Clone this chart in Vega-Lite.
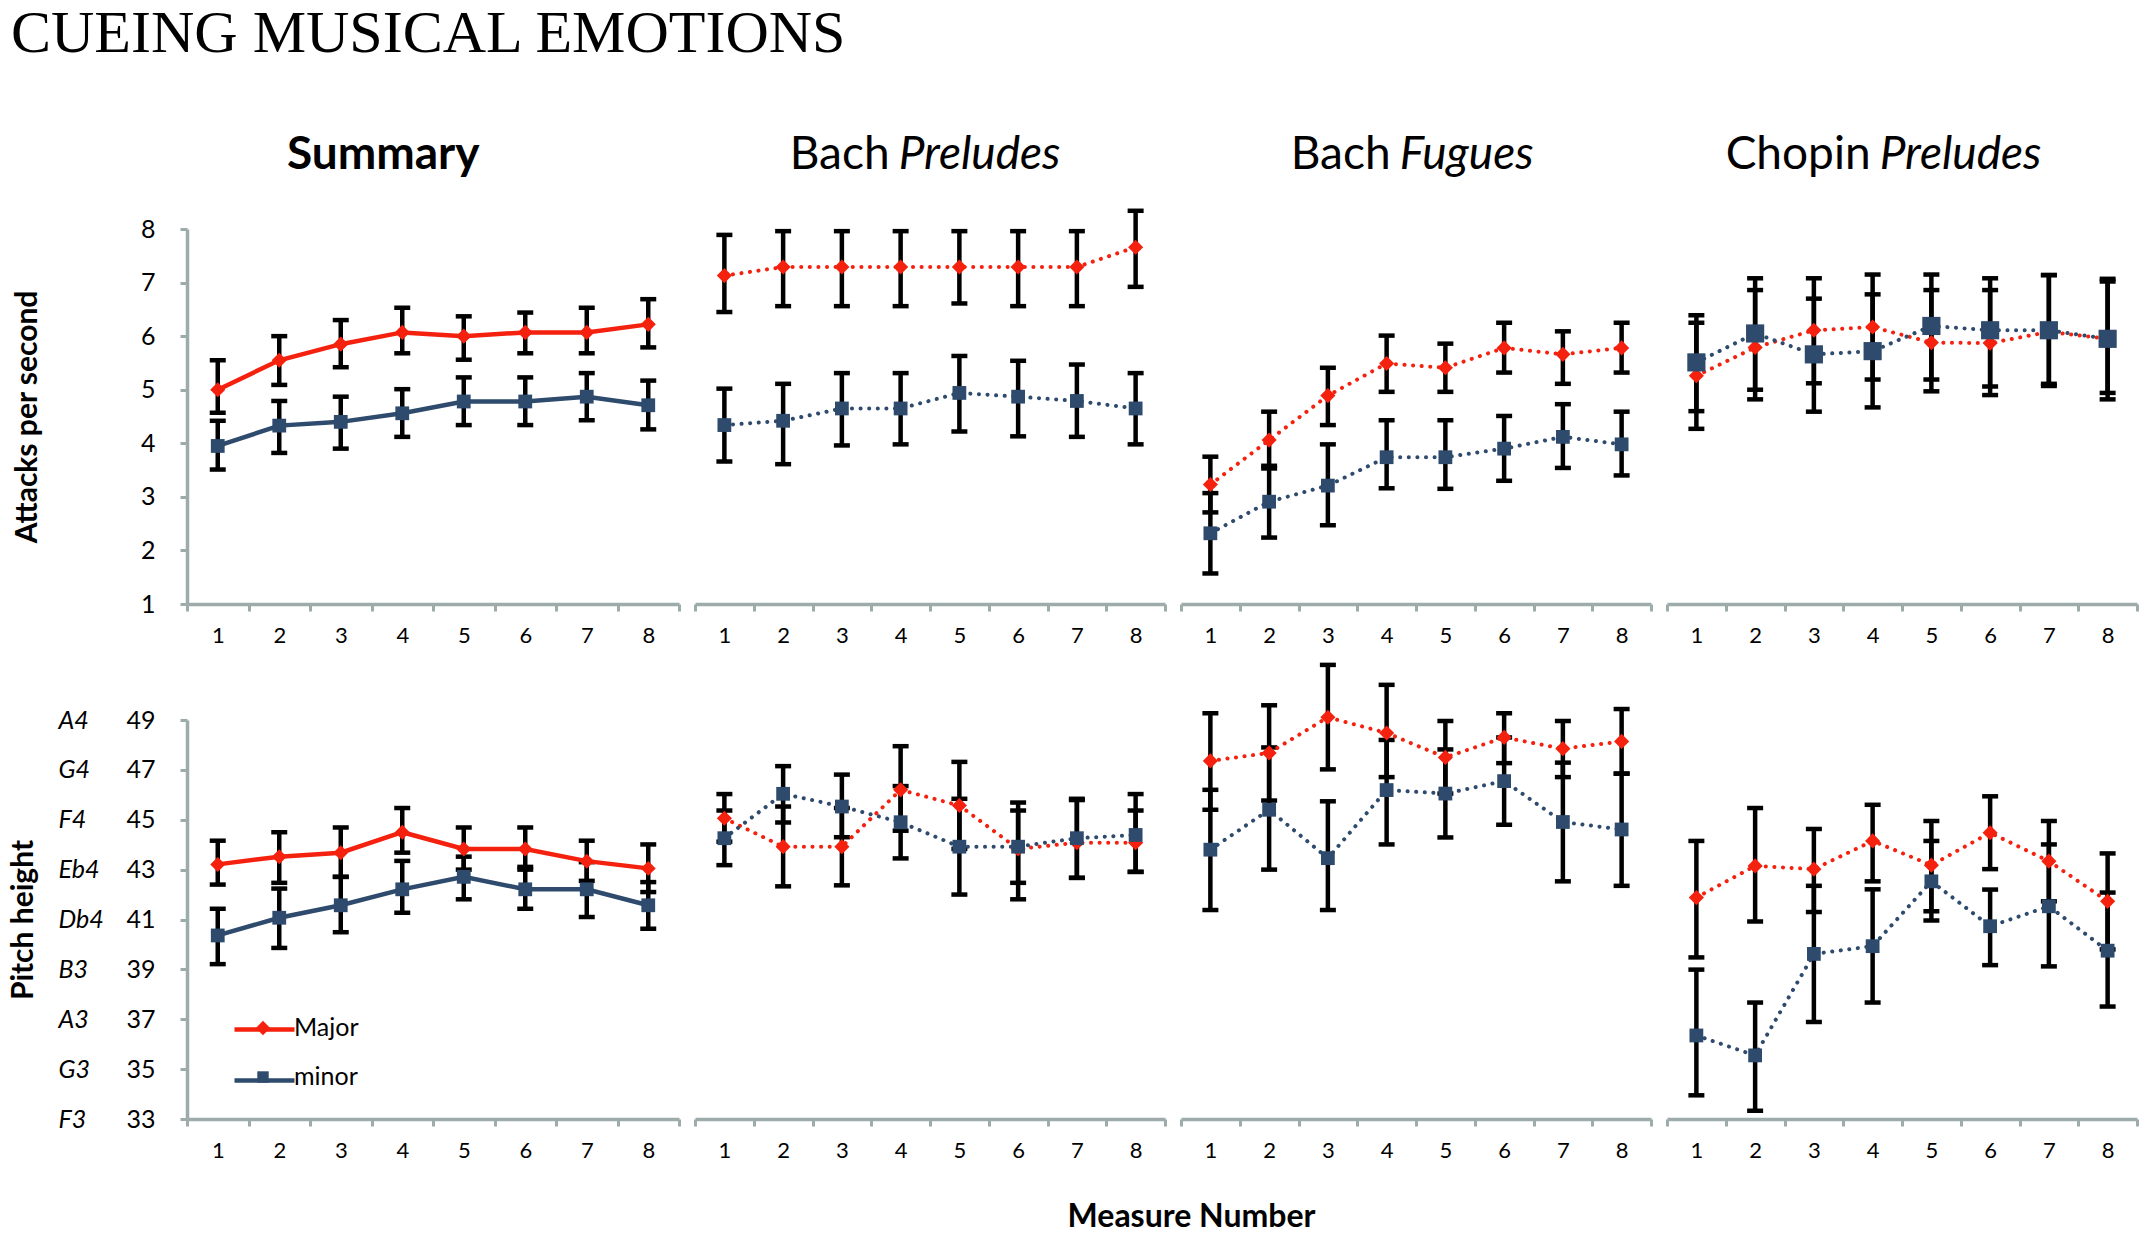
{
  "$schema": "https://vega.github.io/schema/vega-lite/v6.json",
  "description": "Cueing musical emotions: attacks per second and pitch height by measure",
  "padding": {"left": 8, "top": 4, "right": 4, "bottom": 4},
  "title": {"text": "CUEING MUSICAL EMOTIONS", "anchor": "start", "frame": "bounds", "font": "Liberation Serif", "fontSize": 60, "fontWeight": "normal", "color": "#000000", "baseline": "alphabetic", "offset": 20, "dx": 3},
  "data": {
    "values": [
      {"p": "S", "r": "a", "k": "Major", "m": 1, "v": 5.00, "lo": 4.57, "hi": 5.55},
      {"p": "S", "r": "a", "k": "Major", "m": 2, "v": 5.55, "lo": 5.09, "hi": 6.00},
      {"p": "S", "r": "a", "k": "Major", "m": 3, "v": 5.85, "lo": 5.42, "hi": 6.30},
      {"p": "S", "r": "a", "k": "Major", "m": 4, "v": 6.07, "lo": 5.68, "hi": 6.53},
      {"p": "S", "r": "a", "k": "Major", "m": 5, "v": 6.00, "lo": 5.56, "hi": 6.37},
      {"p": "S", "r": "a", "k": "Major", "m": 6, "v": 6.07, "lo": 5.68, "hi": 6.44},
      {"p": "S", "r": "a", "k": "Major", "m": 7, "v": 6.07, "lo": 5.68, "hi": 6.53},
      {"p": "S", "r": "a", "k": "Major", "m": 8, "v": 6.22, "lo": 5.79, "hi": 6.69},
      {"p": "S", "r": "a", "k": "minor", "m": 1, "v": 3.95, "lo": 3.51, "hi": 4.42},
      {"p": "S", "r": "a", "k": "minor", "m": 2, "v": 4.33, "lo": 3.82, "hi": 4.79},
      {"p": "S", "r": "a", "k": "minor", "m": 3, "v": 4.40, "lo": 3.90, "hi": 4.87},
      {"p": "S", "r": "a", "k": "minor", "m": 4, "v": 4.56, "lo": 4.12, "hi": 5.01},
      {"p": "S", "r": "a", "k": "minor", "m": 5, "v": 4.78, "lo": 4.34, "hi": 5.23},
      {"p": "S", "r": "a", "k": "minor", "m": 6, "v": 4.78, "lo": 4.34, "hi": 5.23},
      {"p": "S", "r": "a", "k": "minor", "m": 7, "v": 4.87, "lo": 4.43, "hi": 5.31},
      {"p": "S", "r": "a", "k": "minor", "m": 8, "v": 4.71, "lo": 4.26, "hi": 5.17},
      {"p": "BP", "r": "a", "k": "Major", "m": 1, "v": 7.13, "lo": 6.45, "hi": 7.89},
      {"p": "BP", "r": "a", "k": "Major", "m": 2, "v": 7.29, "lo": 6.56, "hi": 7.96},
      {"p": "BP", "r": "a", "k": "Major", "m": 3, "v": 7.29, "lo": 6.56, "hi": 7.96},
      {"p": "BP", "r": "a", "k": "Major", "m": 4, "v": 7.29, "lo": 6.56, "hi": 7.96},
      {"p": "BP", "r": "a", "k": "Major", "m": 5, "v": 7.29, "lo": 6.61, "hi": 7.96},
      {"p": "BP", "r": "a", "k": "Major", "m": 6, "v": 7.29, "lo": 6.56, "hi": 7.96},
      {"p": "BP", "r": "a", "k": "Major", "m": 7, "v": 7.29, "lo": 6.56, "hi": 7.96},
      {"p": "BP", "r": "a", "k": "Major", "m": 8, "v": 7.66, "lo": 6.92, "hi": 8.34},
      {"p": "BP", "r": "a", "k": "minor", "m": 1, "v": 4.34, "lo": 3.66, "hi": 5.02},
      {"p": "BP", "r": "a", "k": "minor", "m": 2, "v": 4.42, "lo": 3.61, "hi": 5.11},
      {"p": "BP", "r": "a", "k": "minor", "m": 3, "v": 4.65, "lo": 3.96, "hi": 5.31},
      {"p": "BP", "r": "a", "k": "minor", "m": 4, "v": 4.65, "lo": 3.98, "hi": 5.31},
      {"p": "BP", "r": "a", "k": "minor", "m": 5, "v": 4.94, "lo": 4.22, "hi": 5.63},
      {"p": "BP", "r": "a", "k": "minor", "m": 6, "v": 4.87, "lo": 4.13, "hi": 5.54},
      {"p": "BP", "r": "a", "k": "minor", "m": 7, "v": 4.79, "lo": 4.12, "hi": 5.47},
      {"p": "BP", "r": "a", "k": "minor", "m": 8, "v": 4.65, "lo": 3.98, "hi": 5.31},
      {"p": "BF", "r": "a", "k": "Major", "m": 1, "v": 3.23, "lo": 2.71, "hi": 3.75},
      {"p": "BF", "r": "a", "k": "Major", "m": 2, "v": 4.06, "lo": 3.53, "hi": 4.59},
      {"p": "BF", "r": "a", "k": "Major", "m": 3, "v": 4.89, "lo": 4.34, "hi": 5.41},
      {"p": "BF", "r": "a", "k": "Major", "m": 4, "v": 5.49, "lo": 4.96, "hi": 6.01},
      {"p": "BF", "r": "a", "k": "Major", "m": 5, "v": 5.41, "lo": 4.96, "hi": 5.86},
      {"p": "BF", "r": "a", "k": "Major", "m": 6, "v": 5.78, "lo": 5.32, "hi": 6.25},
      {"p": "BF", "r": "a", "k": "Major", "m": 7, "v": 5.66, "lo": 5.11, "hi": 6.09},
      {"p": "BF", "r": "a", "k": "Major", "m": 8, "v": 5.78, "lo": 5.32, "hi": 6.25},
      {"p": "BF", "r": "a", "k": "minor", "m": 1, "v": 2.32, "lo": 1.57, "hi": 3.07},
      {"p": "BF", "r": "a", "k": "minor", "m": 2, "v": 2.91, "lo": 2.24, "hi": 3.58},
      {"p": "BF", "r": "a", "k": "minor", "m": 3, "v": 3.21, "lo": 2.47, "hi": 3.98},
      {"p": "BF", "r": "a", "k": "minor", "m": 4, "v": 3.74, "lo": 3.16, "hi": 4.43},
      {"p": "BF", "r": "a", "k": "minor", "m": 5, "v": 3.74, "lo": 3.15, "hi": 4.43},
      {"p": "BF", "r": "a", "k": "minor", "m": 6, "v": 3.90, "lo": 3.30, "hi": 4.51},
      {"p": "BF", "r": "a", "k": "minor", "m": 7, "v": 4.12, "lo": 3.54, "hi": 4.73},
      {"p": "BF", "r": "a", "k": "minor", "m": 8, "v": 3.98, "lo": 3.40, "hi": 4.59},
      {"p": "CP", "r": "a", "k": "Major", "m": 1, "v": 5.26, "lo": 4.27, "hi": 6.25},
      {"p": "CP", "r": "a", "k": "Major", "m": 2, "v": 5.79, "lo": 4.82, "hi": 6.86},
      {"p": "CP", "r": "a", "k": "Major", "m": 3, "v": 6.11, "lo": 5.12, "hi": 7.08},
      {"p": "CP", "r": "a", "k": "Major", "m": 4, "v": 6.17, "lo": 5.19, "hi": 7.15},
      {"p": "CP", "r": "a", "k": "Major", "m": 5, "v": 5.88, "lo": 4.97, "hi": 6.86},
      {"p": "CP", "r": "a", "k": "Major", "m": 6, "v": 5.87, "lo": 4.90, "hi": 6.86},
      {"p": "CP", "r": "a", "k": "Major", "m": 7, "v": 6.08, "lo": 5.11, "hi": 7.14},
      {"p": "CP", "r": "a", "k": "Major", "m": 8, "v": 5.95, "lo": 4.82, "hi": 7.02},
      {"p": "CP", "r": "a", "k": "minor", "m": 1, "v": 5.51, "lo": 4.60, "hi": 6.39},
      {"p": "CP", "r": "a", "k": "minor", "m": 2, "v": 6.05, "lo": 5.00, "hi": 7.08},
      {"p": "CP", "r": "a", "k": "minor", "m": 3, "v": 5.66, "lo": 4.59, "hi": 6.70},
      {"p": "CP", "r": "a", "k": "minor", "m": 4, "v": 5.72, "lo": 4.67, "hi": 6.78},
      {"p": "CP", "r": "a", "k": "minor", "m": 5, "v": 6.19, "lo": 5.19, "hi": 7.15},
      {"p": "CP", "r": "a", "k": "minor", "m": 6, "v": 6.11, "lo": 5.06, "hi": 7.08},
      {"p": "CP", "r": "a", "k": "minor", "m": 7, "v": 6.11, "lo": 5.07, "hi": 7.14},
      {"p": "CP", "r": "a", "k": "minor", "m": 8, "v": 5.95, "lo": 4.94, "hi": 7.07},
      {"p": "S", "r": "h", "k": "Major", "m": 1, "v": 43.21, "lo": 42.40, "hi": 44.16},
      {"p": "S", "r": "h", "k": "Major", "m": 2, "v": 43.52, "lo": 42.47, "hi": 44.50},
      {"p": "S", "r": "h", "k": "Major", "m": 3, "v": 43.68, "lo": 42.71, "hi": 44.69},
      {"p": "S", "r": "h", "k": "Major", "m": 4, "v": 44.50, "lo": 43.68, "hi": 45.47},
      {"p": "S", "r": "h", "k": "Major", "m": 5, "v": 43.83, "lo": 43.00, "hi": 44.69},
      {"p": "S", "r": "h", "k": "Major", "m": 6, "v": 43.83, "lo": 43.00, "hi": 44.69},
      {"p": "S", "r": "h", "k": "Major", "m": 7, "v": 43.34, "lo": 42.55, "hi": 44.16},
      {"p": "S", "r": "h", "k": "Major", "m": 8, "v": 43.05, "lo": 42.10, "hi": 44.01},
      {"p": "S", "r": "h", "k": "minor", "m": 1, "v": 40.36, "lo": 39.21, "hi": 41.43},
      {"p": "S", "r": "h", "k": "minor", "m": 2, "v": 41.07, "lo": 39.86, "hi": 42.24},
      {"p": "S", "r": "h", "k": "minor", "m": 3, "v": 41.57, "lo": 40.49, "hi": 42.71},
      {"p": "S", "r": "h", "k": "minor", "m": 4, "v": 42.21, "lo": 41.27, "hi": 43.35},
      {"p": "S", "r": "h", "k": "minor", "m": 5, "v": 42.71, "lo": 41.81, "hi": 43.52},
      {"p": "S", "r": "h", "k": "minor", "m": 6, "v": 42.21, "lo": 41.43, "hi": 43.11},
      {"p": "S", "r": "h", "k": "minor", "m": 7, "v": 42.21, "lo": 41.10, "hi": 43.30},
      {"p": "S", "r": "h", "k": "minor", "m": 8, "v": 41.57, "lo": 40.63, "hi": 42.50},
      {"p": "BP", "r": "h", "k": "Major", "m": 1, "v": 45.06, "lo": 44.12, "hi": 46.03},
      {"p": "BP", "r": "h", "k": "Major", "m": 2, "v": 43.92, "lo": 42.33, "hi": 45.53},
      {"p": "BP", "r": "h", "k": "Major", "m": 3, "v": 43.92, "lo": 42.37, "hi": 45.47},
      {"p": "BP", "r": "h", "k": "Major", "m": 4, "v": 46.20, "lo": 44.56, "hi": 47.95},
      {"p": "BP", "r": "h", "k": "Major", "m": 5, "v": 45.57, "lo": 43.83, "hi": 47.32},
      {"p": "BP", "r": "h", "k": "Major", "m": 6, "v": 43.83, "lo": 42.47, "hi": 45.37},
      {"p": "BP", "r": "h", "k": "Major", "m": 7, "v": 44.08, "lo": 42.67, "hi": 45.79},
      {"p": "BP", "r": "h", "k": "Major", "m": 8, "v": 44.08, "lo": 42.91, "hi": 45.37},
      {"p": "BP", "r": "h", "k": "minor", "m": 1, "v": 44.26, "lo": 43.18, "hi": 45.37},
      {"p": "BP", "r": "h", "k": "minor", "m": 2, "v": 46.04, "lo": 44.89, "hi": 47.15},
      {"p": "BP", "r": "h", "k": "minor", "m": 3, "v": 45.53, "lo": 44.30, "hi": 46.81},
      {"p": "BP", "r": "h", "k": "minor", "m": 4, "v": 44.90, "lo": 43.45, "hi": 46.35},
      {"p": "BP", "r": "h", "k": "minor", "m": 5, "v": 43.92, "lo": 42.00, "hi": 45.84},
      {"p": "BP", "r": "h", "k": "minor", "m": 6, "v": 43.92, "lo": 41.81, "hi": 45.69},
      {"p": "BP", "r": "h", "k": "minor", "m": 7, "v": 44.26, "lo": 42.67, "hi": 45.84},
      {"p": "BP", "r": "h", "k": "minor", "m": 8, "v": 44.39, "lo": 42.91, "hi": 46.03},
      {"p": "BF", "r": "h", "k": "Major", "m": 1, "v": 47.36, "lo": 45.40, "hi": 49.27},
      {"p": "BF", "r": "h", "k": "Major", "m": 2, "v": 47.68, "lo": 45.77, "hi": 49.59},
      {"p": "BF", "r": "h", "k": "Major", "m": 3, "v": 49.11, "lo": 47.02, "hi": 51.21},
      {"p": "BF", "r": "h", "k": "Major", "m": 4, "v": 48.48, "lo": 46.71, "hi": 50.41},
      {"p": "BF", "r": "h", "k": "Major", "m": 5, "v": 47.50, "lo": 46.05, "hi": 48.96},
      {"p": "BF", "r": "h", "k": "Major", "m": 6, "v": 48.30, "lo": 47.27, "hi": 49.27},
      {"p": "BF", "r": "h", "k": "Major", "m": 7, "v": 47.85, "lo": 46.71, "hi": 48.96},
      {"p": "BF", "r": "h", "k": "Major", "m": 8, "v": 48.14, "lo": 46.85, "hi": 49.44},
      {"p": "BF", "r": "h", "k": "minor", "m": 1, "v": 43.80, "lo": 41.38, "hi": 46.20},
      {"p": "BF", "r": "h", "k": "minor", "m": 2, "v": 45.40, "lo": 43.00, "hi": 47.90},
      {"p": "BF", "r": "h", "k": "minor", "m": 3, "v": 43.46, "lo": 41.38, "hi": 45.74},
      {"p": "BF", "r": "h", "k": "minor", "m": 4, "v": 46.19, "lo": 44.01, "hi": 48.20},
      {"p": "BF", "r": "h", "k": "minor", "m": 5, "v": 46.05, "lo": 44.29, "hi": 47.82},
      {"p": "BF", "r": "h", "k": "minor", "m": 6, "v": 46.55, "lo": 44.80, "hi": 48.30},
      {"p": "BF", "r": "h", "k": "minor", "m": 7, "v": 44.91, "lo": 42.53, "hi": 47.29},
      {"p": "BF", "r": "h", "k": "minor", "m": 8, "v": 44.61, "lo": 42.35, "hi": 46.85},
      {"p": "CP", "r": "h", "k": "Major", "m": 1, "v": 41.88, "lo": 39.48, "hi": 44.15},
      {"p": "CP", "r": "h", "k": "Major", "m": 2, "v": 43.15, "lo": 40.92, "hi": 45.47},
      {"p": "CP", "r": "h", "k": "Major", "m": 3, "v": 43.02, "lo": 41.30, "hi": 44.63},
      {"p": "CP", "r": "h", "k": "Major", "m": 4, "v": 44.15, "lo": 42.53, "hi": 45.60},
      {"p": "CP", "r": "h", "k": "Major", "m": 5, "v": 43.18, "lo": 41.33, "hi": 44.95},
      {"p": "CP", "r": "h", "k": "Major", "m": 6, "v": 44.48, "lo": 43.02, "hi": 45.94},
      {"p": "CP", "r": "h", "k": "Major", "m": 7, "v": 43.34, "lo": 41.73, "hi": 44.95},
      {"p": "CP", "r": "h", "k": "Major", "m": 8, "v": 41.73, "lo": 39.80, "hi": 43.65},
      {"p": "CP", "r": "h", "k": "minor", "m": 1, "v": 36.35, "lo": 33.95, "hi": 38.99},
      {"p": "CP", "r": "h", "k": "minor", "m": 2, "v": 35.55, "lo": 33.33, "hi": 37.67},
      {"p": "CP", "r": "h", "k": "minor", "m": 3, "v": 39.62, "lo": 36.89, "hi": 42.35},
      {"p": "CP", "r": "h", "k": "minor", "m": 4, "v": 39.93, "lo": 37.67, "hi": 42.21},
      {"p": "CP", "r": "h", "k": "minor", "m": 5, "v": 42.53, "lo": 40.96, "hi": 44.15},
      {"p": "CP", "r": "h", "k": "minor", "m": 6, "v": 40.73, "lo": 39.17, "hi": 42.20},
      {"p": "CP", "r": "h", "k": "minor", "m": 7, "v": 41.53, "lo": 39.12, "hi": 44.01},
      {"p": "CP", "r": "h", "k": "minor", "m": 8, "v": 39.75, "lo": 37.51, "hi": 42.08}
    ]
  },
  "config": {
    "view": {"stroke": null},
    "font": "Lato",
    "axis": {"grid": false, "domainColor": "#9dabab", "domainWidth": 3.5, "tickColor": "#9dabab", "tickWidth": 3, "tickSize": 7, "labelFont": "Lato", "labelColor": "#000000", "titleFont": "Lato", "titleFontSize": 30, "titleFontWeight": "bold", "titleColor": "#000000"},
    "axisX": {"labelFontSize": 22, "labelPadding": 14, "labelOverlap": false, "labelFlush": false},
    "axisY": {"labelFontSize": 25, "labelPadding": 25},
    "text": {"font": "Lato", "color": "#000000"}
  },
  "columns": 4,
  "bounds": "flush",
  "spacing": {"row": 116, "column": 16},
  "resolve": {"legend": {"color": "independent", "shape": "independent", "stroke": "independent"}},
  "concat": [
    {
      "width": 492, "height": 375,
      "transform": [{"filter": "datum.p === 'S' && datum.r === 'a'"}],
      "encoding": {"x": {"field": "m", "type": "quantitative", "scale": {"domain": [0.5, 8.5], "nice": false, "zero": false}, "axis": {"values": [0.5, 1, 1.5, 2, 2.5, 3, 3.5, 4, 4.5, 5, 5.5, 6, 6.5, 7, 7.5, 8, 8.5], "labelExpr": "datum.value % 1 === 0 ? format(datum.value, 'd') : ''", "tickOpacity": {"condition": {"test": "datum.value % 1 === 0", "value": 0}, "value": 1}, "title": null}}},
      "layer": [
        {"mark": {"type": "rule", "color": "#000000", "strokeWidth": 4.5}, "encoding": {"y": {"field": "lo", "type": "quantitative", "scale": {"domain": [1, 8], "nice": false, "zero": false}}, "y2": {"field": "hi"}}},
        {"mark": {"type": "tick", "orient": "horizontal", "color": "#000000", "size": 16, "thickness": 4.5, "opacity": 1}, "encoding": {"y": {"field": "lo", "type": "quantitative", "scale": {"domain": [1, 8], "nice": false, "zero": false}}}},
        {"mark": {"type": "tick", "orient": "horizontal", "color": "#000000", "size": 16, "thickness": 4.5, "opacity": 1}, "encoding": {"y": {"field": "hi", "type": "quantitative", "scale": {"domain": [1, 8], "nice": false, "zero": false}}}},
        {"mark": {"type": "line", "strokeWidth": 4.5}, "encoding": {"y": {"field": "v", "type": "quantitative", "scale": {"domain": [1, 8], "nice": false, "zero": false}, "axis": {"values": [1, 2, 3, 4, 5, 6, 7, 8], "format": "d", "title": "Attacks per second", "titlePadding": 98}}, "stroke": {"field": "k", "type": "nominal", "scale": {"range": ["#f5210f", "#2e4a6c"]}, "legend": null}}},
        {"transform": [{"filter": "datum.k === 'Major'"}], "mark": {"type": "point", "shape": "diamond", "filled": true, "size": 230, "opacity": 1, "color": "#f5210f"}, "encoding": {"y": {"field": "v", "type": "quantitative", "scale": {"domain": [1, 8], "nice": false, "zero": false}}}},
        {"transform": [{"filter": "datum.k === 'minor'"}], "mark": {"type": "point", "shape": "square", "filled": true, "size": 190, "opacity": 1, "color": "#2e4a6c"}, "encoding": {"y": {"field": "v", "type": "quantitative", "scale": {"domain": [1, 8], "nice": false, "zero": false}}}},
        {"transform": [{"filter": "datum.m === 4 && datum.k === 'Major'"}], "mark": {"type": "text", "text": "Summary", "fontSize": 46, "fontWeight": "bold", "align": "center", "baseline": "alphabetic", "dx": -19}, "encoding": {"y": {"datum": 9.12, "type": "quantitative", "scale": {"domain": [1, 8], "nice": false, "zero": false}}}}
      ]
    },
    {
      "width": 470, "height": 375,
      "transform": [{"filter": "datum.p === 'BP' && datum.r === 'a'"}],
      "encoding": {"x": {"field": "m", "type": "quantitative", "scale": {"domain": [0.5, 8.5], "nice": false, "zero": false}, "axis": {"values": [0.5, 1, 1.5, 2, 2.5, 3, 3.5, 4, 4.5, 5, 5.5, 6, 6.5, 7, 7.5, 8, 8.5], "labelExpr": "datum.value % 1 === 0 ? format(datum.value, 'd') : ''", "tickOpacity": {"condition": {"test": "datum.value % 1 === 0", "value": 0}, "value": 1}, "title": null}}},
      "layer": [
        {"mark": {"type": "rule", "color": "#000000", "strokeWidth": 4.5}, "encoding": {"y": {"field": "lo", "type": "quantitative", "scale": {"domain": [1, 8], "nice": false, "zero": false}, "axis": null}, "y2": {"field": "hi"}}},
        {"mark": {"type": "tick", "orient": "horizontal", "color": "#000000", "size": 16, "thickness": 4.5, "opacity": 1}, "encoding": {"y": {"field": "lo", "type": "quantitative", "scale": {"domain": [1, 8], "nice": false, "zero": false}, "axis": null}}},
        {"mark": {"type": "tick", "orient": "horizontal", "color": "#000000", "size": 16, "thickness": 4.5, "opacity": 1}, "encoding": {"y": {"field": "hi", "type": "quantitative", "scale": {"domain": [1, 8], "nice": false, "zero": false}, "axis": null}}},
        {"mark": {"type": "line", "strokeWidth": 4, "strokeDash": [0.1, 8.5], "strokeCap": "round"}, "encoding": {"y": {"field": "v", "type": "quantitative", "scale": {"domain": [1, 8], "nice": false, "zero": false}, "axis": null}, "stroke": {"field": "k", "type": "nominal", "scale": {"range": ["#f5210f", "#2e4a6c"]}, "legend": null}}},
        {"transform": [{"filter": "datum.k === 'Major'"}], "mark": {"type": "point", "shape": "diamond", "filled": true, "size": 230, "opacity": 1, "color": "#f5210f"}, "encoding": {"y": {"field": "v", "type": "quantitative", "scale": {"domain": [1, 8], "nice": false, "zero": false}, "axis": null}}},
        {"transform": [{"filter": "datum.k === 'minor'"}], "mark": {"type": "point", "shape": "square", "filled": true, "size": 190, "opacity": 1, "color": "#2e4a6c"}, "encoding": {"y": {"field": "v", "type": "quantitative", "scale": {"domain": [1, 8], "nice": false, "zero": false}, "axis": null}}},
        {"transform": [{"filter": "datum.m === 4 && datum.k === 'Major'"}], "mark": {"type": "text", "text": "Bach", "fontSize": 46, "align": "right", "baseline": "alphabetic", "dx": -11}, "encoding": {"y": {"datum": 9.12, "type": "quantitative", "scale": {"domain": [1, 8], "nice": false, "zero": false}, "axis": null}}},
        {"transform": [{"filter": "datum.m === 4 && datum.k === 'Major'"}], "mark": {"type": "text", "text": "Preludes", "fontSize": 46, "fontStyle": "italic", "align": "left", "baseline": "alphabetic", "dx": -2}, "encoding": {"y": {"datum": 9.12, "type": "quantitative", "scale": {"domain": [1, 8], "nice": false, "zero": false}, "axis": null}}}
      ]
    },
    {
      "width": 470, "height": 375,
      "transform": [{"filter": "datum.p === 'BF' && datum.r === 'a'"}],
      "encoding": {"x": {"field": "m", "type": "quantitative", "scale": {"domain": [0.5, 8.5], "nice": false, "zero": false}, "axis": {"values": [0.5, 1, 1.5, 2, 2.5, 3, 3.5, 4, 4.5, 5, 5.5, 6, 6.5, 7, 7.5, 8, 8.5], "labelExpr": "datum.value % 1 === 0 ? format(datum.value, 'd') : ''", "tickOpacity": {"condition": {"test": "datum.value % 1 === 0", "value": 0}, "value": 1}, "title": null}}},
      "layer": [
        {"mark": {"type": "rule", "color": "#000000", "strokeWidth": 4.5}, "encoding": {"y": {"field": "lo", "type": "quantitative", "scale": {"domain": [1, 8], "nice": false, "zero": false}, "axis": null}, "y2": {"field": "hi"}}},
        {"mark": {"type": "tick", "orient": "horizontal", "color": "#000000", "size": 16, "thickness": 4.5, "opacity": 1}, "encoding": {"y": {"field": "lo", "type": "quantitative", "scale": {"domain": [1, 8], "nice": false, "zero": false}, "axis": null}}},
        {"mark": {"type": "tick", "orient": "horizontal", "color": "#000000", "size": 16, "thickness": 4.5, "opacity": 1}, "encoding": {"y": {"field": "hi", "type": "quantitative", "scale": {"domain": [1, 8], "nice": false, "zero": false}, "axis": null}}},
        {"mark": {"type": "line", "strokeWidth": 4, "strokeDash": [0.1, 8.5], "strokeCap": "round"}, "encoding": {"y": {"field": "v", "type": "quantitative", "scale": {"domain": [1, 8], "nice": false, "zero": false}, "axis": null}, "stroke": {"field": "k", "type": "nominal", "scale": {"range": ["#f5210f", "#2e4a6c"]}, "legend": null}}},
        {"transform": [{"filter": "datum.k === 'Major'"}], "mark": {"type": "point", "shape": "diamond", "filled": true, "size": 230, "opacity": 1, "color": "#f5210f"}, "encoding": {"y": {"field": "v", "type": "quantitative", "scale": {"domain": [1, 8], "nice": false, "zero": false}, "axis": null}}},
        {"transform": [{"filter": "datum.k === 'minor'"}], "mark": {"type": "point", "shape": "square", "filled": true, "size": 190, "opacity": 1, "color": "#2e4a6c"}, "encoding": {"y": {"field": "v", "type": "quantitative", "scale": {"domain": [1, 8], "nice": false, "zero": false}, "axis": null}}},
        {"transform": [{"filter": "datum.m === 4 && datum.k === 'Major'"}], "mark": {"type": "text", "text": "Bach", "fontSize": 46, "align": "right", "baseline": "alphabetic", "dx": 4}, "encoding": {"y": {"datum": 9.12, "type": "quantitative", "scale": {"domain": [1, 8], "nice": false, "zero": false}, "axis": null}}},
        {"transform": [{"filter": "datum.m === 4 && datum.k === 'Major'"}], "mark": {"type": "text", "text": "Fugues", "fontSize": 46, "fontStyle": "italic", "align": "left", "baseline": "alphabetic", "dx": 13}, "encoding": {"y": {"datum": 9.12, "type": "quantitative", "scale": {"domain": [1, 8], "nice": false, "zero": false}, "axis": null}}}
      ]
    },
    {
      "width": 470, "height": 375,
      "transform": [{"filter": "datum.p === 'CP' && datum.r === 'a'"}],
      "encoding": {"x": {"field": "m", "type": "quantitative", "scale": {"domain": [0.5, 8.5], "nice": false, "zero": false}, "axis": {"values": [0.5, 1, 1.5, 2, 2.5, 3, 3.5, 4, 4.5, 5, 5.5, 6, 6.5, 7, 7.5, 8, 8.5], "labelExpr": "datum.value % 1 === 0 ? format(datum.value, 'd') : ''", "tickOpacity": {"condition": {"test": "datum.value % 1 === 0", "value": 0}, "value": 1}, "title": null}}},
      "layer": [
        {"mark": {"type": "rule", "color": "#000000", "strokeWidth": 4.5}, "encoding": {"y": {"field": "lo", "type": "quantitative", "scale": {"domain": [1, 8], "nice": false, "zero": false}, "axis": null}, "y2": {"field": "hi"}}},
        {"mark": {"type": "tick", "orient": "horizontal", "color": "#000000", "size": 16, "thickness": 4.5, "opacity": 1}, "encoding": {"y": {"field": "lo", "type": "quantitative", "scale": {"domain": [1, 8], "nice": false, "zero": false}, "axis": null}}},
        {"mark": {"type": "tick", "orient": "horizontal", "color": "#000000", "size": 16, "thickness": 4.5, "opacity": 1}, "encoding": {"y": {"field": "hi", "type": "quantitative", "scale": {"domain": [1, 8], "nice": false, "zero": false}, "axis": null}}},
        {"mark": {"type": "line", "strokeWidth": 4, "strokeDash": [0.1, 8.5], "strokeCap": "round"}, "encoding": {"y": {"field": "v", "type": "quantitative", "scale": {"domain": [1, 8], "nice": false, "zero": false}, "axis": null}, "stroke": {"field": "k", "type": "nominal", "scale": {"range": ["#f5210f", "#2e4a6c"]}, "legend": null}}},
        {"transform": [{"filter": "datum.k === 'Major'"}], "mark": {"type": "point", "shape": "diamond", "filled": true, "size": 230, "opacity": 1, "color": "#f5210f"}, "encoding": {"y": {"field": "v", "type": "quantitative", "scale": {"domain": [1, 8], "nice": false, "zero": false}, "axis": null}}},
        {"transform": [{"filter": "datum.k === 'minor'"}], "mark": {"type": "point", "shape": "square", "filled": true, "size": 330, "opacity": 1, "color": "#2e4a6c"}, "encoding": {"y": {"field": "v", "type": "quantitative", "scale": {"domain": [1, 8], "nice": false, "zero": false}, "axis": null}}},
        {"transform": [{"filter": "datum.m === 4 && datum.k === 'Major'"}], "mark": {"type": "text", "text": "Chopin", "fontSize": 46, "align": "right", "baseline": "alphabetic", "dx": -2}, "encoding": {"y": {"datum": 9.12, "type": "quantitative", "scale": {"domain": [1, 8], "nice": false, "zero": false}, "axis": null}}},
        {"transform": [{"filter": "datum.m === 4 && datum.k === 'Major'"}], "mark": {"type": "text", "text": "Preludes", "fontSize": 46, "fontStyle": "italic", "align": "left", "baseline": "alphabetic", "dx": 7}, "encoding": {"y": {"datum": 9.12, "type": "quantitative", "scale": {"domain": [1, 8], "nice": false, "zero": false}, "axis": null}}}
      ]
    },
    {
      "width": 492, "height": 399,
      "transform": [{"filter": "datum.p === 'S' && datum.r === 'h'"}],
      "resolve": {"axis": {"y": "independent"}},
      "encoding": {"x": {"field": "m", "type": "quantitative", "scale": {"domain": [0.5, 8.5], "nice": false, "zero": false}, "axis": {"values": [0.5, 1, 1.5, 2, 2.5, 3, 3.5, 4, 4.5, 5, 5.5, 6, 6.5, 7, 7.5, 8, 8.5], "labelExpr": "datum.value % 1 === 0 ? format(datum.value, 'd') : ''", "tickOpacity": {"condition": {"test": "datum.value % 1 === 0", "value": 0}, "value": 1}, "title": null}}},
      "layer": [
        {"mark": {"type": "rule", "color": "#000000", "strokeWidth": 4.5}, "encoding": {"y": {"field": "lo", "type": "quantitative", "scale": {"domain": [33, 49], "nice": false, "zero": false}, "axis": null}, "y2": {"field": "hi"}}},
        {"mark": {"type": "tick", "orient": "horizontal", "color": "#000000", "size": 16, "thickness": 4.5, "opacity": 1}, "encoding": {"y": {"field": "lo", "type": "quantitative", "scale": {"domain": [33, 49], "nice": false, "zero": false}, "axis": null}}},
        {"mark": {"type": "tick", "orient": "horizontal", "color": "#000000", "size": 16, "thickness": 4.5, "opacity": 1}, "encoding": {"y": {"field": "hi", "type": "quantitative", "scale": {"domain": [33, 49], "nice": false, "zero": false}, "axis": null}}},
        {"mark": {"type": "line", "strokeWidth": 4.5}, "encoding": {"y": {"field": "v", "type": "quantitative", "scale": {"domain": [33, 49], "nice": false, "zero": false}, "axis": {"orient": "left", "values": [33, 35, 37, 39, 41, 43, 45, 47, 49], "format": "d", "title": null}}, "stroke": {"field": "k", "type": "nominal", "scale": {"range": ["#f5210f", "#2e4a6c"]}, "legend": {"orient": "none", "legendX": 45, "legendY": 277, "title": null, "symbolType": "stroke", "symbolSize": 3600, "symbolStrokeWidth": 4.5, "labelOpacity": 0, "labelFont": "Lato", "labelFontSize": 25, "labelOffset": 0, "rowPadding": 5, "padding": 0}}}},
        {"transform": [{"filter": "datum.k === 'Major'"}], "mark": {"type": "point", "filled": true, "size": 3900, "opacity": 1}, "encoding": {"y": {"field": "v", "type": "quantitative", "scale": {"domain": [33, 49], "nice": false, "zero": false}, "axis": {"orient": "left", "values": [33, 35, 37, 39, 41, 43, 45, 47, 49], "labelExpr": "['F3','G3','A3','B3','Db4','Eb4','F4','G4','A4'][(datum.value - 33) / 2]", "labelFontStyle": "italic", "labelAlign": "left", "domain": false, "ticks": false, "tickSize": 0, "offset": 129, "labelPadding": 0, "title": "Pitch height", "titlePadding": 20}}, "color": {"field": "k", "type": "nominal", "scale": {"domain": ["Major", "minor"], "range": ["#f5210f", "#2e4a6c"]}, "legend": {"orient": "none", "legendX": 45, "legendY": 277, "title": null, "symbolSize": 3600, "symbolOpacity": 1, "labelFont": "Lato", "labelFontSize": 25, "labelColor": "#000000", "labelOffset": 0, "rowPadding": 5, "padding": 0}}, "shape": {"field": "k", "type": "nominal", "scale": {"domain": ["Major", "minor"], "range": ["M0,-0.24L0.24,0L0,0.24L-0.24,0Z", "M-0.19,-0.19L0.19,-0.19L0.19,0.19L-0.19,0.19Z"]}, "legend": {"orient": "none", "legendX": 45, "legendY": 277, "title": null, "symbolSize": 3600, "symbolOpacity": 1, "labelFont": "Lato", "labelFontSize": 25, "labelColor": "#000000", "labelOffset": 0, "rowPadding": 5, "padding": 0}}}},
        {"transform": [{"filter": "datum.k === 'minor'"}], "mark": {"type": "point", "shape": "square", "filled": true, "size": 190, "opacity": 1, "color": "#2e4a6c"}, "encoding": {"y": {"field": "v", "type": "quantitative", "scale": {"domain": [33, 49], "nice": false, "zero": false}, "axis": null}}}
      ]
    },
    {
      "width": 470, "height": 399,
      "transform": [{"filter": "datum.p === 'BP' && datum.r === 'h'"}],
      "encoding": {"x": {"field": "m", "type": "quantitative", "scale": {"domain": [0.5, 8.5], "nice": false, "zero": false}, "axis": {"values": [0.5, 1, 1.5, 2, 2.5, 3, 3.5, 4, 4.5, 5, 5.5, 6, 6.5, 7, 7.5, 8, 8.5], "labelExpr": "datum.value % 1 === 0 ? format(datum.value, 'd') : ''", "tickOpacity": {"condition": {"test": "datum.value % 1 === 0", "value": 0}, "value": 1}, "title": null}}},
      "layer": [
        {"mark": {"type": "rule", "color": "#000000", "strokeWidth": 4.5}, "encoding": {"y": {"field": "lo", "type": "quantitative", "scale": {"domain": [33, 49], "nice": false, "zero": false}, "axis": null}, "y2": {"field": "hi"}}},
        {"mark": {"type": "tick", "orient": "horizontal", "color": "#000000", "size": 16, "thickness": 4.5, "opacity": 1}, "encoding": {"y": {"field": "lo", "type": "quantitative", "scale": {"domain": [33, 49], "nice": false, "zero": false}, "axis": null}}},
        {"mark": {"type": "tick", "orient": "horizontal", "color": "#000000", "size": 16, "thickness": 4.5, "opacity": 1}, "encoding": {"y": {"field": "hi", "type": "quantitative", "scale": {"domain": [33, 49], "nice": false, "zero": false}, "axis": null}}},
        {"mark": {"type": "line", "strokeWidth": 4, "strokeDash": [0.1, 8.5], "strokeCap": "round"}, "encoding": {"y": {"field": "v", "type": "quantitative", "scale": {"domain": [33, 49], "nice": false, "zero": false}, "axis": null}, "stroke": {"field": "k", "type": "nominal", "scale": {"range": ["#f5210f", "#2e4a6c"]}, "legend": null}}},
        {"transform": [{"filter": "datum.k === 'Major'"}], "mark": {"type": "point", "shape": "diamond", "filled": true, "size": 230, "opacity": 1, "color": "#f5210f"}, "encoding": {"y": {"field": "v", "type": "quantitative", "scale": {"domain": [33, 49], "nice": false, "zero": false}, "axis": null}}},
        {"transform": [{"filter": "datum.k === 'minor'"}], "mark": {"type": "point", "shape": "square", "filled": true, "size": 190, "opacity": 1, "color": "#2e4a6c"}, "encoding": {"y": {"field": "v", "type": "quantitative", "scale": {"domain": [33, 49], "nice": false, "zero": false}, "axis": null}}}
      ]
    },
    {
      "width": 470, "height": 399,
      "transform": [{"filter": "datum.p === 'BF' && datum.r === 'h'"}],
      "encoding": {"x": {"field": "m", "type": "quantitative", "scale": {"domain": [0.5, 8.5], "nice": false, "zero": false}, "axis": {"values": [0.5, 1, 1.5, 2, 2.5, 3, 3.5, 4, 4.5, 5, 5.5, 6, 6.5, 7, 7.5, 8, 8.5], "labelExpr": "datum.value % 1 === 0 ? format(datum.value, 'd') : ''", "tickOpacity": {"condition": {"test": "datum.value % 1 === 0", "value": 0}, "value": 1}, "title": "Measure Number", "titleX": 10, "titleAlign": "center", "titleBaseline": "top", "titleFontSize": 32, "titlePadding": 40}}},
      "layer": [
        {"mark": {"type": "rule", "color": "#000000", "strokeWidth": 4.5}, "encoding": {"y": {"field": "lo", "type": "quantitative", "scale": {"domain": [33, 49], "nice": false, "zero": false}, "axis": null}, "y2": {"field": "hi"}}},
        {"mark": {"type": "tick", "orient": "horizontal", "color": "#000000", "size": 16, "thickness": 4.5, "opacity": 1}, "encoding": {"y": {"field": "lo", "type": "quantitative", "scale": {"domain": [33, 49], "nice": false, "zero": false}, "axis": null}}},
        {"mark": {"type": "tick", "orient": "horizontal", "color": "#000000", "size": 16, "thickness": 4.5, "opacity": 1}, "encoding": {"y": {"field": "hi", "type": "quantitative", "scale": {"domain": [33, 49], "nice": false, "zero": false}, "axis": null}}},
        {"mark": {"type": "line", "strokeWidth": 4, "strokeDash": [0.1, 8.5], "strokeCap": "round"}, "encoding": {"y": {"field": "v", "type": "quantitative", "scale": {"domain": [33, 49], "nice": false, "zero": false}, "axis": null}, "stroke": {"field": "k", "type": "nominal", "scale": {"range": ["#f5210f", "#2e4a6c"]}, "legend": null}}},
        {"transform": [{"filter": "datum.k === 'Major'"}], "mark": {"type": "point", "shape": "diamond", "filled": true, "size": 230, "opacity": 1, "color": "#f5210f"}, "encoding": {"y": {"field": "v", "type": "quantitative", "scale": {"domain": [33, 49], "nice": false, "zero": false}, "axis": null}}},
        {"transform": [{"filter": "datum.k === 'minor'"}], "mark": {"type": "point", "shape": "square", "filled": true, "size": 190, "opacity": 1, "color": "#2e4a6c"}, "encoding": {"y": {"field": "v", "type": "quantitative", "scale": {"domain": [33, 49], "nice": false, "zero": false}, "axis": null}}}
      ]
    },
    {
      "width": 470, "height": 399,
      "transform": [{"filter": "datum.p === 'CP' && datum.r === 'h'"}],
      "encoding": {"x": {"field": "m", "type": "quantitative", "scale": {"domain": [0.5, 8.5], "nice": false, "zero": false}, "axis": {"values": [0.5, 1, 1.5, 2, 2.5, 3, 3.5, 4, 4.5, 5, 5.5, 6, 6.5, 7, 7.5, 8, 8.5], "labelExpr": "datum.value % 1 === 0 ? format(datum.value, 'd') : ''", "tickOpacity": {"condition": {"test": "datum.value % 1 === 0", "value": 0}, "value": 1}, "title": null}}},
      "layer": [
        {"mark": {"type": "rule", "color": "#000000", "strokeWidth": 4.5}, "encoding": {"y": {"field": "lo", "type": "quantitative", "scale": {"domain": [33, 49], "nice": false, "zero": false}, "axis": null}, "y2": {"field": "hi"}}},
        {"mark": {"type": "tick", "orient": "horizontal", "color": "#000000", "size": 16, "thickness": 4.5, "opacity": 1}, "encoding": {"y": {"field": "lo", "type": "quantitative", "scale": {"domain": [33, 49], "nice": false, "zero": false}, "axis": null}}},
        {"mark": {"type": "tick", "orient": "horizontal", "color": "#000000", "size": 16, "thickness": 4.5, "opacity": 1}, "encoding": {"y": {"field": "hi", "type": "quantitative", "scale": {"domain": [33, 49], "nice": false, "zero": false}, "axis": null}}},
        {"mark": {"type": "line", "strokeWidth": 4, "strokeDash": [0.1, 8.5], "strokeCap": "round"}, "encoding": {"y": {"field": "v", "type": "quantitative", "scale": {"domain": [33, 49], "nice": false, "zero": false}, "axis": null}, "stroke": {"field": "k", "type": "nominal", "scale": {"range": ["#f5210f", "#2e4a6c"]}, "legend": null}}},
        {"transform": [{"filter": "datum.k === 'Major'"}], "mark": {"type": "point", "shape": "diamond", "filled": true, "size": 230, "opacity": 1, "color": "#f5210f"}, "encoding": {"y": {"field": "v", "type": "quantitative", "scale": {"domain": [33, 49], "nice": false, "zero": false}, "axis": null}}},
        {"transform": [{"filter": "datum.k === 'minor'"}], "mark": {"type": "point", "shape": "square", "filled": true, "size": 190, "opacity": 1, "color": "#2e4a6c"}, "encoding": {"y": {"field": "v", "type": "quantitative", "scale": {"domain": [33, 49], "nice": false, "zero": false}, "axis": null}}}
      ]
    }
  ]
}
